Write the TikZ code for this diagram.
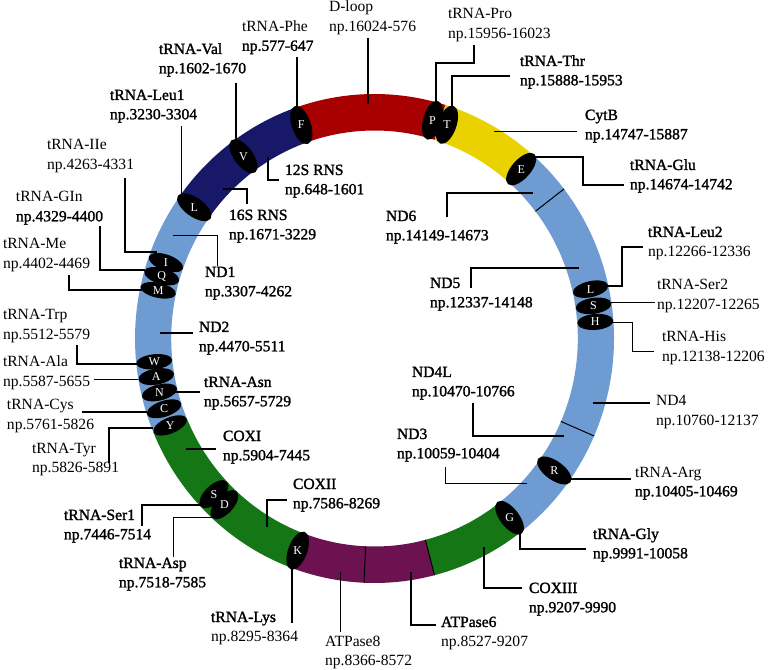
\documentclass[tikz,border=0pt]{standalone}
\usepackage{fontspec}
\setmainfont{Liberation Serif}
\newfontfamily\sbf[FakeBold=1.5]{Liberation Serif}
\definecolor{dloop}{RGB}{168,0,0}
\definecolor{navy}{RGB}{24,24,104}
\definecolor{cytb}{RGB}{234,210,0}
\definecolor{ltblue}{RGB}{110,155,210}
\definecolor{cox}{RGB}{20,118,20}
\definecolor{atp}{RGB}{108,18,80}
\def\cx{374.5}\def\cy{-338.5}
\def\orx{239.5}\def\ory{244.5}
\def\irx{203.3}\def\iry{208}
\def\mrx{221.4}\def\mry{226.2}
\newcommand{\seg}[3]{\fill[#1] ({\cx+\orx*cos(#2)},{\cy+\ory*sin(#2)}) arc[start angle=#2, end angle=#3, x radius=\orx, y radius=\ory] -- ({\cx+\irx*cos(#3)},{\cy+\iry*sin(#3)}) arc[start angle=#3, end angle=#2, x radius=\irx, y radius=\iry] -- cycle;}
\newcommand{\tick}[1]{\draw[tickline] ({\cx+\irx*cos(#1)},{\cy+\iry*sin(#1)}) -- ({\cx+\orx*cos(#1)},{\cy+\ory*sin(#1)});}
\newcommand{\trna}[5]{%
  \coordinate (#1-c) at ({\cx+\mrx*cos(#2)},{\cy+\mry*sin(#2)});
  \fill[black, rotate around={#2:(#1-c)}] (#1-c) ellipse [x radius=#4, y radius=#5];
  \node[trnaletter] (#1) at (#1-c) {#3};}
\newcommand{\lbl}[5]{\node[lbl] (#1) at (#2,-#3) {\vtop{\hbox{#4}\hbox{#5}}};}
\begin{document}
\begin{tikzpicture}[x=0.75pt,y=0.75pt,
  lbl/.style={anchor=base west, inner sep=0pt, outer sep=0pt, font=\fontsize{11.7}{14.5}\selectfont},
  trnaletter/.style={text=white, inner sep=0pt, font=\fontsize{9}{9}\selectfont},
  leader/.style={draw=black, line width=1.5pt},
  thinleader/.style={draw=black, line width=0.75pt},
  tickline/.style={draw=black, line width=0.75pt}]
\useasboundingbox (0,0) rectangle (768,-670);
% ring
\seg{ltblue}{-53}{49}
\seg{cytb}{48.5}{72.8}
\seg{dloop}{72.8}{109.3}
\seg{navy}{109.3}{144.5}
\seg{ltblue}{144.5}{202.6}
\seg{cox}{202.6}{249.7}
\seg{atp}{249.7}{284.5}
\seg{cox}{284.5}{307.6}
\tick{37.7}
\tick{-23.5}
\tick{-75.5}
\tick{-92.5}
% leaders
\draw[leader] (297,-57) -- (297,-110);
\draw[leader] (368,-38) -- (368,-104);
\draw[leader] (236,-83) -- (236,-142);
\draw[thinleader] (181,-126) -- (181,-195);
\draw[leader] (125,-178) -- (125,-252) -- (157,-252);
\draw[leader] (100,-226) -- (100,-270) -- (145,-270);
\draw[leader] (69,-275) -- (69,-290) -- (142,-290);
\draw[leader] (268,-157) -- (268,-180) -- (279,-180);
\draw[leader] (223,-189) -- (247,-189) -- (247,-204);
\draw[thinleader] (173,-236) -- (217,-236) -- (217,-266);
\draw[leader] (77,-345) -- (77,-364) -- (140,-364);
\draw[leader] (160,-333) -- (193,-333);
\draw[thinleader] (94,-380) -- (138,-380);
\draw[leader] (175,-392) -- (200,-392);
\draw[leader] (82,-412) -- (147,-412);
\draw[leader] (109,-463) -- (109,-428) -- (153,-428);
\draw[leader] (186,-449) -- (216,-449);
\draw[leader] (267,-527) -- (267,-500) -- (287,-500);
\draw[leader] (142,-526) -- (142,-505) -- (202,-505);
\draw[thinleader] (173,-557) -- (173,-517) -- (212,-517);
\draw[leader] (292,-623) -- (292,-566);
\draw[thinleader] (340,-572) -- (340,-632);
\draw[leader] (411,-572) -- (411,-625) -- (436,-625);
\draw[leader] (484,-547) -- (484,-588) -- (522,-588);
\draw[leader] (520,-531) -- (520,-549) -- (586,-549);
\draw[leader] (569,-479) -- (631,-479);
\draw[thinleader] (445,-467) -- (445,-483) -- (527,-483);
\draw[leader] (473,-403) -- (473,-436) -- (564,-436);
\draw[leader] (593,-403) -- (650,-403);
\draw[thinleader] (612,-323) -- (632,-323) -- (632,-352) -- (654,-352);
\draw[thinleader] (611,-303) -- (655,-303);
\draw[leader] (608,-286) -- (622,-286) -- (622,-247) -- (643,-247);
\draw[leader] (471,-288) -- (471,-268) -- (579,-268);
\draw[leader] (447,-217) -- (447,-193) -- (533,-193);
\draw[leader] (532,-157) -- (583,-157) -- (583,-185) -- (624,-185);
\draw[thinleader] (494,-132) -- (577,-132);
\draw[leader] (452,-108) -- (452,-76) -- (510,-76);
\draw[leader] (436,-104) -- (436,-63) -- (474,-63) -- (474,-45);
% tRNA marks
\trna{F}{109.3}{F}{20}{9.5}
\trna{V}{126.3}{V}{20}{9.5}
\trna{L1}{144.5}{L}{20}{9.5}
\trna{I}{160.4}{I}{18}{8}
\trna{Q}{164.0}{Q}{18}{8}
\trna{M}{167.7}{M}{18}{7.5}
\trna{W}{185.9}{W}{18}{7.5}
\trna{A}{189.7}{A}{18}{8}
\trna{N}{193.8}{N}{18}{8}
\trna{C}{198.1}{C}{18}{8}
\trna{Y}{202.6}{Y}{18}{8}
\trna{S1}{223.5}{S}{18}{9}
\trna{D}{227.3}{D}{18}{9}
\trna{K}{249.7}{K}{20}{9.5}
\trna{G}{307.6}{G}{20}{9.5}
\trna{R}{324.3}{R}{20}{9.5}
\trna{H}{4.2}{H}{18}{8}
\trna{S2}{8.3}{S}{18}{8}
\trna{L2}{12.6}{L}{18}{8}
\trna{E}{48.5}{E}{20}{9.5}
\trna{T}{70.9}{T}{20}{9.5}
\trna{P}{74.8}{P}{20}{9.5}
% labels
\lbl{tphe}{242}{31.5}{tRNA-Phe}{\sbf np.577-647}
\lbl{dloopl}{329}{12}{D-loop}{np.16024-576}
\lbl{tval}{159}{54}{\sbf tRNA-Val}{\sbf np.1602-1670}
\lbl{tleu1}{110}{100}{\sbf tRNA-Leu1}{\sbf np.3230-3304}
\lbl{tile}{47}{150}{tRNA-IIe}{np.4263-4331}
\lbl{tgln}{16}{202}{tRNA-GIn}{\sbf np.4329-4400}
\lbl{tmet}{3}{249}{tRNA-Me}{np.4402-4469}
\lbl{s12}{285}{175}{\sbf 12S RNS}{\sbf np.648-1601}
\lbl{s16}{229}{220}{\sbf 16S RNS}{\sbf np.1671-3229}
\lbl{nd1}{205}{277}{\sbf ND1}{\sbf np.3307-4262}
\lbl{ttrp}{3}{320}{tRNA-Trp}{np.5512-5579}
\lbl{nd2}{199}{332}{\sbf ND2}{\sbf np.4470-5511}
\lbl{tala}{3}{367}{tRNA-Ala}{np.5587-5655}
\lbl{tasn}{204}{387}{\sbf tRNA-Asn}{\sbf np.5657-5729}
\lbl{tcys}{7}{410}{tRNA-Cys}{np.5761-5826}
\lbl{ttyr}{32}{453}{tRNA-Tyr}{np.5826-5891}
\lbl{cox1}{223}{441}{\sbf COXI}{\sbf np.5904-7445}
\lbl{cox2}{293}{489}{\sbf COXII}{\sbf np.7586-8269}
\lbl{tser1}{64}{520}{\sbf tRNA-Ser1}{\sbf np.7446-7514}
\lbl{tasp}{119}{568}{\sbf tRNA-Asp}{\sbf np.7518-7585}
\lbl{tlys}{211}{622}{\sbf tRNA-Lys}{np.8295-8364}
\lbl{atp8}{325}{646}{ATPase8}{np.8366-8572}
\lbl{atp6}{441}{627}{\sbf ATPase6}{np.8527-9207}
\lbl{cox3}{529}{593}{\sbf COXIII}{\sbf np.9207-9990}
\lbl{tgly}{593}{539}{\sbf tRNA-Gly}{\sbf np.9991-10058}
\lbl{targ}{635}{477}{tRNA-Arg}{\sbf np.10405-10469}
\lbl{nd3}{397}{439}{\sbf ND3}{\sbf np.10059-10404}
\lbl{nd4l}{412}{377}{\sbf ND4L}{\sbf np.10470-10766}
\lbl{nd4}{656}{406}{ND4}{np.10760-12137}
\lbl{this}{662}{342}{tRNA-His}{np.12138-12206}
\lbl{tser2}{657}{290}{tRNA-Ser2}{np.12207-12265}
\lbl{tleu2}{648}{237}{\sbf tRNA-Leu2}{np.12266-12336}
\lbl{nd5}{430}{288}{\sbf ND5}{\sbf np.12337-14148}
\lbl{nd6}{386}{221}{\sbf ND6}{\sbf np.14149-14673}
\lbl{tglu}{630}{170}{\sbf tRNA-Glu}{\sbf np.14674-14742}
\lbl{cytbl}{585}{120}{\sbf CytB}{\sbf np.14747-15887}
\lbl{tthr}{520}{66}{\sbf tRNA-Thr}{\sbf np.15888-15953}
\lbl{tpro}{448}{19}{tRNA-Pro}{np.15956-16023}
\end{tikzpicture}
\end{document}
